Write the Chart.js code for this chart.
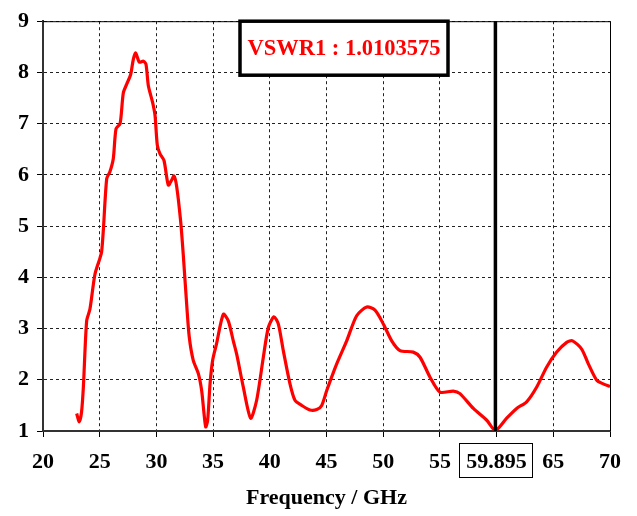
<!DOCTYPE html>
<html><head><meta charset="utf-8">
<script src="https://cdn.jsdelivr.net/npm/chart.js@4"></script>
<style>html,body{margin:0;padding:0;background:#fff}#wrap{width:637px;height:516px}</style>
</head><body><div id="wrap"><canvas id="c" width="637" height="516"></canvas></div>
<script>
const freqGHz = [22.97,23.2,23.4,23.56,23.85,24.14,24.58,25.03,25.17,25.32,25.62,25.9,26.2,26.44,26.8,27.08,27.38,27.73,27.96,28.17,28.5,28.85,29.08,29.29,29.67,29.88,30.08,30.32,30.67,31.05,31.35,31.55,31.79,32.14,32.37,32.67,32.9,33.25,33.7,33.99,34.2,34.35,34.52,34.73,34.96,35.3,35.9,36.34,36.78,37.08,37.66,38.31,38.84,39.43,39.87,40.37,40.75,41.19,41.78,42.22,42.81,43.55,44.14,44.58,45.02,45.9,46.78,47.66,48.55,49.28,50.01,50.75,51.48,52.65,53.25,54.13,55.0,56.18,56.77,57.95,59.13,59.895,60.89,61.77,62.65,63.54,64.42,65.3,66.18,66.7,67.5,68.09,68.83,69.4,70];
const vswr = [1.34,1.18,1.37,1.86,3.15,3.38,4.06,4.38,4.5,4.92,5.93,6.06,6.32,6.9,7.0,7.6,7.77,7.96,8.25,8.38,8.2,8.22,8.16,7.74,7.41,7.16,6.58,6.41,6.28,5.8,5.9,5.98,5.77,5.09,4.44,3.47,2.83,2.38,2.12,1.79,1.34,1.08,1.21,1.92,2.38,2.7,3.28,3.15,2.76,2.5,1.86,1.25,1.6,2.44,3.02,3.23,3.09,2.57,1.92,1.6,1.5,1.41,1.42,1.5,1.79,2.31,2.76,3.25,3.42,3.36,3.09,2.76,2.57,2.54,2.44,2.05,1.76,1.78,1.73,1.44,1.21,1.0103575,1.25,1.44,1.57,1.86,2.25,2.54,2.73,2.76,2.6,2.31,1.99,1.92,1.87];
const xTicks = [20,25,30,35,40,45,50,55,60,65,70];
const yTicks = [1,2,3,4,5,6,7,8,9];
const markerFreq = 59.895;
const markerLabel = '59.895';
const markerValueText = 'VSWR1 : 1.0103575';
const xTitle = 'Frequency / GHz';

const FONT = "'Liberation Serif', 'Times New Roman', serif";

const overlay = {
  id: 'overlay',
  afterDraw(chart) {
    const {ctx, chartArea: a, scales: {x, y}} = chart;
    ctx.save();
    ctx.strokeStyle = '#000'; ctx.lineWidth = 1; ctx.setLineDash([]);
    ctx.beginPath();
    ctx.moveTo(a.left, a.top + 0.5); ctx.lineTo(a.right + 0.5, a.top + 0.5); ctx.lineTo(a.right + 0.5, a.bottom);
    ctx.stroke();
    const mx = x.getPixelForValue(markerFreq);
    ctx.lineWidth = 3.5;
    ctx.beginPath(); ctx.moveTo(mx, a.top); ctx.lineTo(mx, a.bottom); ctx.stroke();
    const bx = a.left + 197, by = a.top + 0, bw = 208, bh = 54;
    ctx.fillStyle = '#fff'; ctx.fillRect(bx, by, bw, bh);
    ctx.lineWidth = 3.5; ctx.strokeRect(bx, by, bw, bh);
    ctx.fillStyle = '#ff0000';
    ctx.font = "bold 22.5px " + FONT;
    ctx.textAlign = 'center'; ctx.textBaseline = 'middle';
    ctx.fillText(markerValueText, bx + bw / 2, by + bh / 2 + 1);
    const lx = x.getPixelForValue(60);
    ctx.font = "bold 22px " + FONT;
    const tw = ctx.measureText(markerLabel).width;
    ctx.lineWidth = 1;
    ctx.strokeRect(Math.round(lx - tw / 2 - 7) + 0.5, 443.5, Math.round(tw + 12), 34);
    ctx.restore();
  }
};

new Chart(document.getElementById('c'), {
  type: 'line',
  data: {
    datasets: [{
      data: freqGHz.map((f, i) => ({x: f, y: vswr[i]})),
      borderColor: '#ff0000',
      borderWidth: 3.2,
      pointRadius: 0,
      tension: 0.25,
      fill: false
    }]
  },
  options: {
    responsive: false,
    animation: false,
    events: [],
    layout: {padding: {top: 18, right: 27, left: 0, bottom: 0}},
    plugins: {legend: {display: false}, tooltip: {enabled: false}},
    scales: {
      x: {
        type: 'linear', min: 20, max: 70,
        afterBuildTicks(s) { s.ticks = xTicks.map(v => ({value: v})); },
        afterFit(s) { s.height = 85; },
        ticks: {
          color: '#000', font: {family: FONT, size: 22, weight: 'bold'}, padding: 12,
          maxRotation: 0, autoSkip: false,
          callback: v => (v === 60 ? markerLabel : String(v))
        },
        grid: {color: '#222', lineWidth: 1, tickLength: 6, tickColor: '#000', drawOnChartArea: true},
        border: {color: '#333', width: 2, dash: [3, 3]},
        title: {display: true, text: xTitle, color: '#000', font: {family: FONT, size: 22, weight: 'bold'}, padding: {top: 4, bottom: 4}}
      },
      y: {
        type: 'linear', min: 1, max: 9,
        afterBuildTicks(s) { s.ticks = yTicks.map(v => ({value: v})); },
        afterFit(s) { s.width = 43; },
        ticks: {color: '#000', font: {family: FONT, size: 22, weight: 'bold'}, padding: 8},
        grid: {color: '#222', lineWidth: 1, tickLength: 6, tickColor: '#000'},
        border: {color: '#333', width: 2, dash: [3, 3]}
      }
    }
  },
  plugins: [overlay]
});
</script></body></html>
